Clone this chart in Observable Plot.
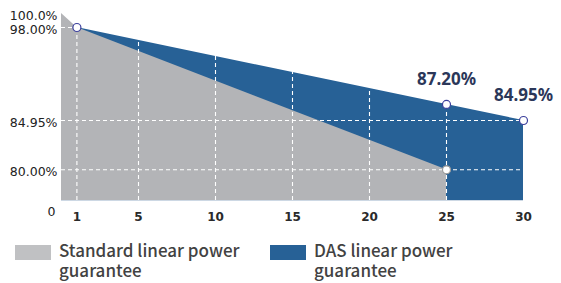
<!DOCTYPE html>
<html><head><meta charset="utf-8">
<script src="https://cdn.jsdelivr.net/npm/d3@7"></script>
<script src="https://cdn.jsdelivr.net/npm/@observablehq/plot@0.6"></script>
<style>
body{margin:0;background:#fff;}
#wrap{position:relative;width:561px;height:283px;overflow:hidden;}
#legend{position:absolute;left:0;top:230px;width:561px;height:53px;font-family:"Noto Sans CJK SC","Noto Sans",sans-serif;font-size:17px;font-weight:500;color:#424242;}
.sw{position:absolute;top:15px;width:36px;height:15px;}
.lt{position:absolute;top:10px;line-height:20px;}
</style></head>
<body><div id="wrap"><div id="chart"></div><div id="legend"></div></div>
<script>
const standardYears = [0, 1, 25];
const standardValues = [100, 98, 80];
const dasYears = [1, 25, 30];
const dasValues = [98, 87.2, 84.95];
const xTicks = [1, 5, 10, 15, 20, 25, 30];
const yTicks = [80, 84.95, 98, 100];
const yTickLabels = ["80.00%", "84.95%", "98.00%", "100.0%"];
const gridX = [1, 5, 10, 15, 20, 25];
const seriesNames = ["Standard linear power guarantee", "DAS linear power guarantee"];
const colors = ["#b3b4b7", "#276196"];
const legendColors = ["#c0c1c3", "#276196"];

const standard = standardYears.map((x, i) => ({x, y: standardValues[i]}));
const das = dasYears.map((x, i) => ({x, y: dasValues[i]}));
const dasAt = x => {
  for (let i = 0; i < das.length - 1; i++) {
    const a = das[i], b = das[i + 1];
    if (x >= a.x && x <= b.x) return a.y + (b.y - a.y) * (x - a.x) / (b.x - a.x);
  }
  return das[das.length - 1].y;
};
const vGrid = gridX.map(x => ({x, y2: dasAt(x)}));
const hGrid = [{y: 98, x2: 1}, {y: 84.95, x2: 30}, {y: 80, x2: 30}];
const dasLabels = [das[1], das[2]];

const chart = Plot.plot({
  width: 561, height: 230,
  marginLeft: 61, marginRight: 38, marginTop: 13, marginBottom: 30,
  x: {domain: [0, 30], range: [61, 523]},
  y: {type: "linear", domain: [0, 80, 84.95, 98, 100], range: [200, 169.3, 120, 27, 13]},
  style: {background: "#fff"},
  marks: [
    Plot.ruleY([0], {x1: 0, x2: 30, stroke: "#cdd8e4"}),
    Plot.areaY(das, {x: "x", y: "y", fill: colors[1]}),
    Plot.areaY(standard, {x: "x", y: "y", fill: colors[0]}),
    Plot.ruleX(vGrid, {x: "x", y1: 0, y2: "y2", stroke: "#fff", strokeDasharray: "4,3", strokeWidth: 1.1}),
    Plot.ruleY(hGrid, {y: "y", x1: 0, x2: "x2", stroke: "#fff", strokeDasharray: "4,3", strokeWidth: 1.1}),
    Plot.dot([standard[2]], {x: "x", y: "y", r: 4, fill: "#fff", stroke: "#9a9a9a", strokeWidth: 1.2}),
    Plot.dot(das, {x: "x", y: "y", r: 4, fill: "#fff", stroke: "#3b3f9c", strokeWidth: 1.2}),
    Plot.text(dasLabels, {x: "x", y: "y", text: d => d.y.toFixed(2) + "%", dy: -25, fontSize: 17, fontWeight: "bold", fill: "#2b3759", fontFamily: "Noto Sans"}),
    Plot.axisY({ticks: yTicks, tickFormat: d => yTickLabels[yTicks.indexOf(d)], tickSize: 0, tickPadding: 4, fontSize: 12.5, fontFamily: "DejaVu Sans", fill: "#222", dy: 2}),
    Plot.text([0], {x: 0, y: 0, text: d => String(d), dx: -6, dy: 11, textAnchor: "end", fontSize: 12.5, fontFamily: "DejaVu Sans", fill: "#222"}),
    Plot.axisX({ticks: xTicks, tickSize: 0, tickPadding: 12, fontSize: 12, fontFamily: "DejaVu Sans", fontWeight: "bold", fill: "#2a2a2a"})
  ]
});
document.getElementById("chart").appendChild(chart);

const legend = document.getElementById("legend");
const pos = [{sw: 15, tx: 59, lines: ["Standard linear power", "guarantee"]}, {sw: 270, tx: 314, lines: ["DAS linear power", "guarantee"]}];
seriesNames.forEach((n, i) => {
  const s = document.createElement("div");
  s.className = "sw"; s.style.left = pos[i].sw + "px"; s.style.background = legendColors[i];
  legend.appendChild(s);
  const t = document.createElement("div");
  t.className = "lt"; t.style.left = pos[i].tx + "px";
  t.innerHTML = pos[i].lines.join("<br>");
  legend.appendChild(t);
});
</script></body></html>
